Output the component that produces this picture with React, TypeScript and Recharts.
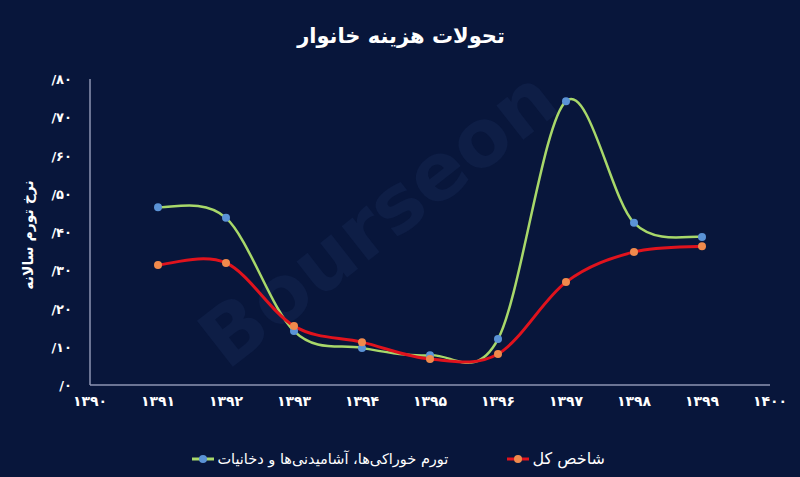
import React from 'react';
import { LineChart, Line, XAxis, YAxis } from 'recharts';

const years = [1391, 1392, 1393, 1394, 1395, 1396, 1397, 1398, 1399];
const foodInflation = [46.5, 43.7, 14.1, 9.7, 7.8, 12.0, 74.2, 42.4, 38.7];
const totalIndex = [31.4, 31.9, 15.4, 11.2, 6.8, 8.1, 26.9, 34.8, 36.3];

const xTicks = [1390, 1391, 1392, 1393, 1394, 1395, 1396, 1397, 1398, 1399, 1400];
const xTickLabels = ['۱۳۹۰', '۱۳۹۱', '۱۳۹۲', '۱۳۹۳', '۱۳۹۴', '۱۳۹۵', '۱۳۹۶', '۱۳۹۷', '۱۳۹۸', '۱۳۹۹', '۱۴۰۰'];
const yTicks = [0, 10, 20, 30, 40, 50, 60, 70, 80];
const yTickLabels = ['/۰', '/۱۰', '/۲۰', '/۳۰', '/۴۰', '/۵۰', '/۶۰', '/۷۰', '/۸۰'];

const title = 'تحولات هزینه خانوار';
const yAxisTitle = 'نرخ تورم سالانه';
const foodName = 'تورم خوراکی‌ها، آشامیدنی‌ها و دخانیات';
const totalName = 'شاخص کل';

const data = years.map((y, i) => ({ year: y, food: foodInflation[i], total: totalIndex[i] }));

const BG = '#08163b';
const FONT = '"DejaVu Sans", sans-serif';

// Excel-like smoothed line (Catmull-Rom through each point)
function smoothCurve(context: any) {
  let pts: [number, number][] = [];
  return {
    areaStart() {},
    areaEnd() {},
    lineStart() {
      pts = [];
    },
    lineEnd() {
      const n = pts.length;
      if (n === 0) return;
      context.moveTo(pts[0][0], pts[0][1]);
      for (let i = 0; i < n - 1; i++) {
        const p0 = pts[Math.max(i - 1, 0)];
        const p1 = pts[i];
        const p2 = pts[i + 1];
        const p3 = pts[Math.min(i + 2, n - 1)];
        context.bezierCurveTo(
          p1[0] + (p2[0] - p0[0]) / 6,
          p1[1] + (p2[1] - p0[1]) / 6,
          p2[0] - (p3[0] - p1[0]) / 6,
          p2[1] - (p3[1] - p1[1]) / 6,
          p2[0],
          p2[1]
        );
      }
    },
    point(x: number, y: number) {
      pts.push([+x, +y]);
    },
  };
}

const XTick = (props: any) => {
  const { x, y, payload } = props;
  const idx = xTicks.indexOf(payload.value);
  return (
    <text x={x} y={y + 13} textAnchor="middle" fill="#ffffff" fontSize={14} fontFamily={FONT} fontWeight="bold">
      {xTickLabels[idx]}
    </text>
  );
};

const YTick = (props: any) => {
  const { x, y, payload } = props;
  const idx = yTicks.indexOf(payload.value);
  return (
    <text x={x - 10} y={y + 5} textAnchor="end" fill="#ffffff" fontSize={13} fontFamily={FONT} fontWeight="bold" direction="ltr">
      {yTickLabels[idx]}
    </text>
  );
};

const LegendIcon = ({ line, dot }: { line: string; dot: string }) => (
  <svg width={22} height={10} style={{ display: 'block' }}>
    <line x1={0} y1={5} x2={22} y2={5} stroke={line} strokeWidth={3} />
    <circle cx={11} cy={5} r={4} fill={dot} />
  </svg>
);

export default function App() {
  return (
    <div style={{ position: 'absolute', left: 0, top: 0, width: 800, height: 477, background: BG, overflow: 'hidden' }}>
      <svg width={800} height={477} style={{ position: 'absolute', left: 0, top: 0 }}>
        <text
          x={0}
          y={0}
          transform="translate(395 240) rotate(-38)"
          textAnchor="middle"
          fontFamily={FONT}
          fontWeight="bold"
          fontSize={80}
          fill="#0e1e46"
        >
          Bourseon
        </text>
      </svg>
      <div style={{ position: 'absolute', left: 0, top: 0 }}>
        <LineChart width={800} height={477} data={data} margin={{ top: 79, right: 30, bottom: 52, left: 30 }}>
          <XAxis
            dataKey="year"
            type="number"
            domain={[1390, 1400]}
            ticks={xTicks}
            interval={0}
            tick={<XTick />}
            tickLine={false}
            axisLine={{ stroke: '#8d95b3', strokeWidth: 1.5 }}
            height={40}
          />
          <YAxis
            type="number"
            domain={[0, 80]}
            ticks={yTicks}
            interval={0}
            tick={<YTick />}
            tickLine={false}
            axisLine={{ stroke: '#8d95b3', strokeWidth: 1.5 }}
            width={60}
          />
          <Line
            type={smoothCurve as any}
            dataKey="food"
            stroke="#a8d86a"
            strokeWidth={2.5}
            dot={{ r: 4, fill: '#5b93d6', stroke: 'none' }}
            activeDot={false}
            isAnimationActive={false}
          />
          <Line
            type={smoothCurve as any}
            dataKey="total"
            stroke="#e0131d"
            strokeWidth={3}
            dot={{ r: 4, fill: '#f08a4c', stroke: 'none' }}
            activeDot={false}
            isAnimationActive={false}
          />
        </LineChart>
      </div>
      <svg width={800} height={477} style={{ position: 'absolute', left: 0, top: 0, pointerEvents: 'none' }}>
        <text x={401} y={43} textAnchor="middle" fill="#ffffff" fontFamily={FONT} fontWeight="bold" fontSize={21}>
          {title}
        </text>
        <text
          x={0}
          y={0}
          transform="translate(33 235) rotate(-90)"
          textAnchor="middle"
          fill="#ffffff"
          fontFamily={FONT}
          fontWeight="bold"
          fontSize={14}
        >
          {yAxisTitle}
        </text>
      </svg>
      <div
        style={{
          position: 'absolute',
          top: 449,
          right: 195,
          display: 'flex',
          alignItems: 'center',
          gap: 3,
          direction: 'rtl',
          color: '#ffffff',
          fontFamily: FONT,
          fontSize: 14.5,
          whiteSpace: 'nowrap',
        }}
      >
        <span style={{ fontSize: 16 }}>{totalName}</span>
        <LegendIcon line="#e0131d" dot="#f08a4c" />
        <span style={{ marginRight: 56 }}>{foodName}</span>
        <LegendIcon line="#a8d86a" dot="#5b93d6" />
      </div>
    </div>
  );
}
